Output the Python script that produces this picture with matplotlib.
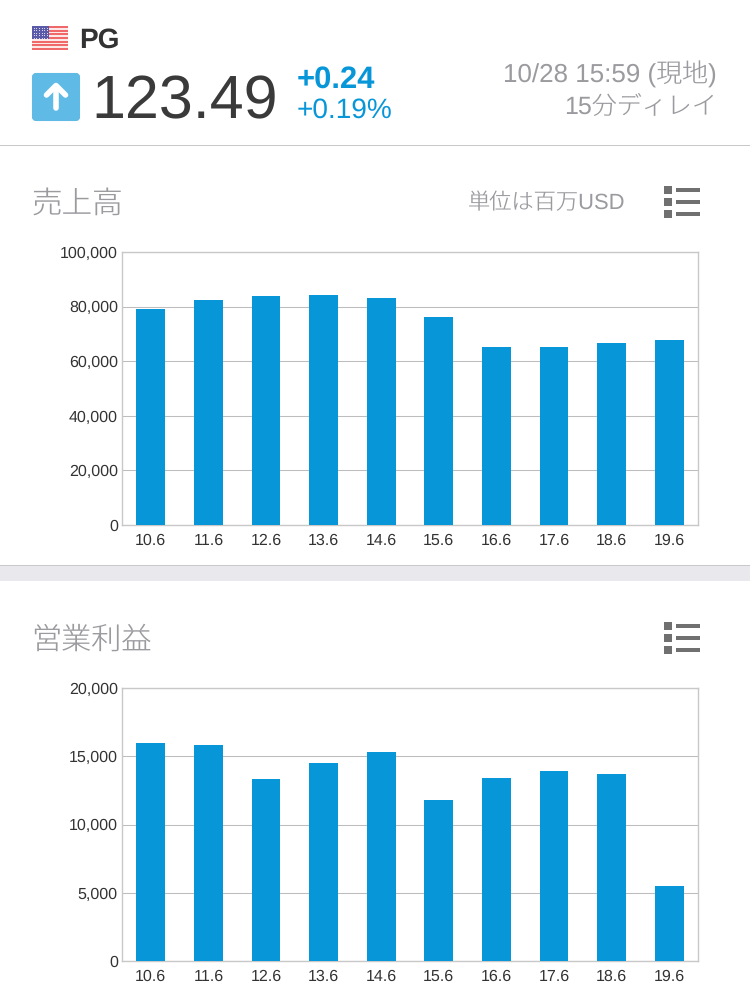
import matplotlib
matplotlib.use('Agg')
import matplotlib.pyplot as plt
from matplotlib.patches import Rectangle, FancyBboxPatch

plt.rcParams['font.family'] = ['Liberation Sans', 'Noto Sans CJK JP', 'DejaVu Sans']
plt.rcParams['text.hinting'] = 'no_hinting'
plt.rcParams['text.hinting_factor'] = 1

years = ['10.6', '11.6', '12.6', '13.6', '14.6', '15.6', '16.6', '17.6', '18.6', '19.6']
sales = [79000, 82500, 83700, 84200, 83000, 76300, 65300, 65100, 66800, 67700]
profit = [16000, 15800, 13300, 14500, 15300, 11800, 13400, 13950, 13700, 5500]
sales_ticks = [0, 20000, 40000, 60000, 80000, 100000]
profit_ticks = [0, 5000, 10000, 15000, 20000]

W, H = 750, 1001
BLUE = '#0796d8'
GREY = '#9a9a9f'
DARK = '#333333'
LINE = '#c8c8c8'

fig = plt.figure(figsize=(W / 100, H / 100), dpi=100, facecolor='white')

# capa de fondo en pixeles
bg = fig.add_axes([0, 0, 1, 1])
bg.set_xlim(0, W)
bg.set_ylim(H, 0)
bg.axis('off')


def rect(x, y, w, h, color):
    bg.add_patch(Rectangle((x, y), w, h, facecolor=color, edgecolor='none'))


def lista_icono(y):
    for i in range(3):
        rect(664, y + i * 12, 8, 7.5, '#707070')
        rect(676, y + 2.2 + i * 12, 24, 4.2, '#707070')


def texto(x, y, s, size, color, ha='left', weight='light'):
    bg.text(x, y, s, fontsize=size, color=color, va='baseline', ha=ha, fontweight=weight)


# bandera
for i in range(13):
    rect(32, 26 + i * 24 / 13, 36, 24 / 13, '#f0686a' if i % 2 == 0 else '#fbe9e9')
rect(32, 26, 16.5, 13, '#5a5aa8')
for fila in range(5):
    for col in range(6):
        bg.plot(33.5 + col * 2.7, 28 + fila * 2.4, 's', ms=0.7, color='#d8d8f0', mew=0)

texto(79, 48, 'PG', 20, DARK, weight='bold')

# flecha de subida
bg.add_patch(FancyBboxPatch((33, 74), 46, 46, boxstyle='round,pad=0,rounding_size=3',
                            facecolor='#5fbae6', edgecolor='#5fbae6', linewidth=1.5))
bg.plot([56, 56], [87, 108], color='white', lw=4, solid_capstyle='round')
bg.plot([46.5, 56, 65.5], [95, 85.5, 95], color='white', lw=4, solid_capstyle='round',
        solid_joinstyle='round')

texto(91, 118.5, '123.49', 44, '#3a3a3a')
texto(297, 88, '+0.24', 22, BLUE, weight='bold')
texto(297, 118, '+0.19%', 19.8, BLUE)
texto(717, 83, '10/28 15:59 (現地)', 18.7, GREY, ha='right')
texto(717, 114, '15分ディレイ', 18, GREY, ha='right')

rect(0, 145, W, 1, LINE)
rect(0, 565, W, 16, '#e8e8ed')
rect(0, 565, W, 1, LINE)

texto(31.5, 213, '売上高', 22, GREY)
texto(625, 209, '単位は百万USD', 16, GREY, ha='right')
texto(31.5, 649, '営業利益', 21.7, GREY)
lista_icono(186)
lista_icono(622)


def grafico(top, bottom, valores, ticks):
    ax = fig.add_axes([122 / W, 1 - bottom / H, (698 - 122) / W, (bottom - top) / H])
    ax.set_zorder(2)
    ax.patch.set_alpha(0)
    ax.bar(range(len(years)), valores, width=0.5, color=BLUE, zorder=3)
    ax.set_xlim(-0.5, len(years) - 0.5)
    ax.set_ylim(ticks[0], ticks[-1])
    ax.set_xticks(range(len(years)))
    ax.set_xticklabels(years)
    ax.set_yticks(ticks)
    ax.set_yticklabels([f'{t:,}' for t in ticks])
    ax.grid(axis='y', color='#bdbdbd', lw=0.75, zorder=1)
    ax.set_axisbelow(True)
    ax.tick_params(axis='both', length=0, labelsize=11.5, labelcolor=DARK)
    ax.tick_params(axis='x', pad=6)
    ax.tick_params(axis='y', pad=3)
    for s in ax.spines.values():
        s.set_color(LINE)
        s.set_linewidth(1)
    return ax


grafico(252, 525, sales, sales_ticks)
grafico(688, 961, profit, profit_ticks)

fig.savefig('out.png', dpi=100)
